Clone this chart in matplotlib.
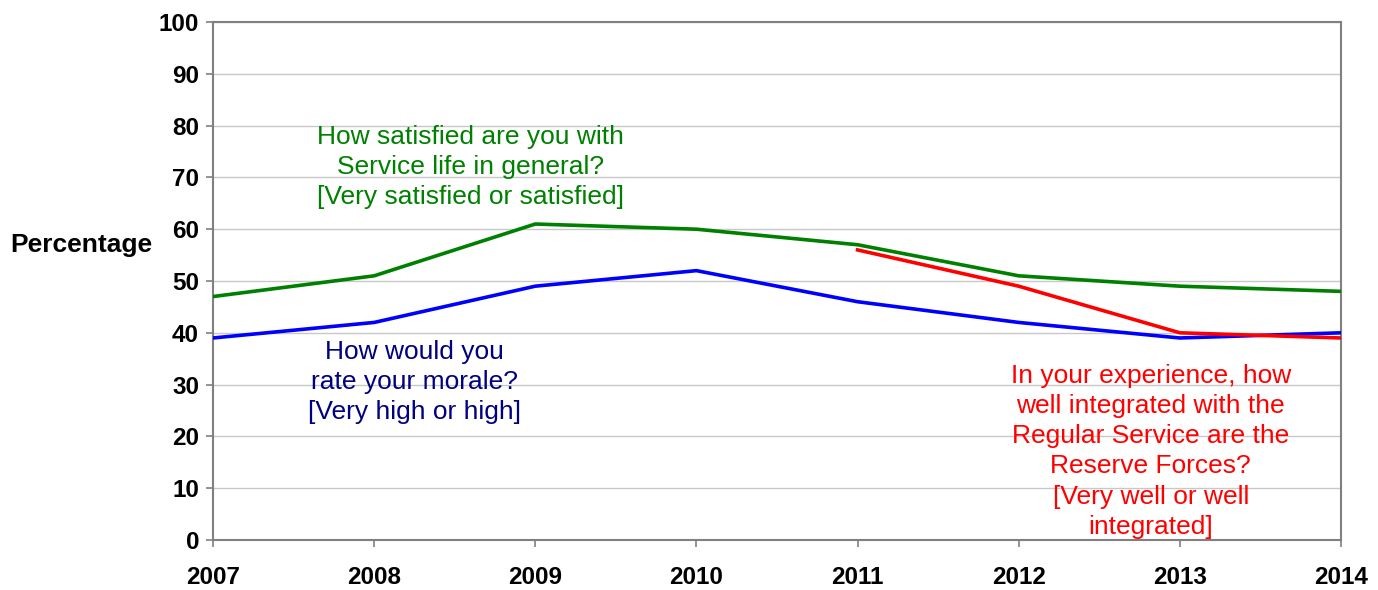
import numpy as np
import matplotlib.pyplot as plt

plt.rcParams['font.family'] = ['Liberation Sans', 'DejaVu Sans']

# 数据
years = [2007, 2008, 2009, 2010, 2011, 2012, 2013, 2014]
satisfied = [47, 51, 61, 60, 57, 51, 49, 48]
morale = [39, 42, 49, 52, 46, 42, 39, 40]
reserve_years = [2011, 2012, 2013, 2014]
reserve = [56, 49, 40, 39]

label_satisfied = "How satisfied are you with\nService life in general?\n[Very satisfied or satisfied]"
label_morale = "How would you\nrate your morale?\n[Very high or high]"
label_reserve = ("In your experience, how\nwell integrated with the\nRegular Service are the\n"
                 "Reserve Forces?\n[Very well or well\nintegrated]")

fig = plt.figure(figsize=(13.78, 5.9), dpi=100)
ax = fig.add_axes([213 / 1378, 1 - 540 / 590, (1341 - 213) / 1378, (540 - 22) / 590])

ax.plot(years, satisfied, color="#008000", linewidth=2.6, zorder=3)
ax.plot(years, morale, color="#0000FF", linewidth=2.6, zorder=3)
ax.plot(reserve_years, reserve, color="#FF0000", linewidth=2.6, zorder=4)

ax.set_xlim(2007, 2014)
ax.set_ylim(0, 100)
ax.set_xticks(years)
ax.set_yticks(np.arange(0, 101, 10))
ax.yaxis.grid(True, color="#c8c8c8", linewidth=1)
ax.set_axisbelow(True)

for s in ax.spines.values():
    s.set_color("#808080")
    s.set_linewidth(1.5)

ax.tick_params(axis="both", direction="out", color="#808080", width=1.2, length=5,
               labelsize=17.5, pad=5)
ax.tick_params(axis="x", pad=14)
for lab in ax.get_xticklabels() + ax.get_yticklabels():
    lab.set_fontweight("bold")

fig.text(10 / 1378, 1 - 245 / 590, "Percentage", fontsize=19, fontweight="bold",
         ha="left", va="center")

ax.text(2008.6, 72.0, label_satisfied, color="#008000", fontsize=19,
        ha="center", va="center", linespacing=1.32)
ax.text(2008.25, 30.5, label_morale, color="#000080", fontsize=19,
        ha="center", va="center", linespacing=1.32)
ax.text(2012.82, 17.1, label_reserve, color="#FF0000", fontsize=19,
        ha="center", va="center", linespacing=1.32)

fig.savefig("out.png", dpi=100)
